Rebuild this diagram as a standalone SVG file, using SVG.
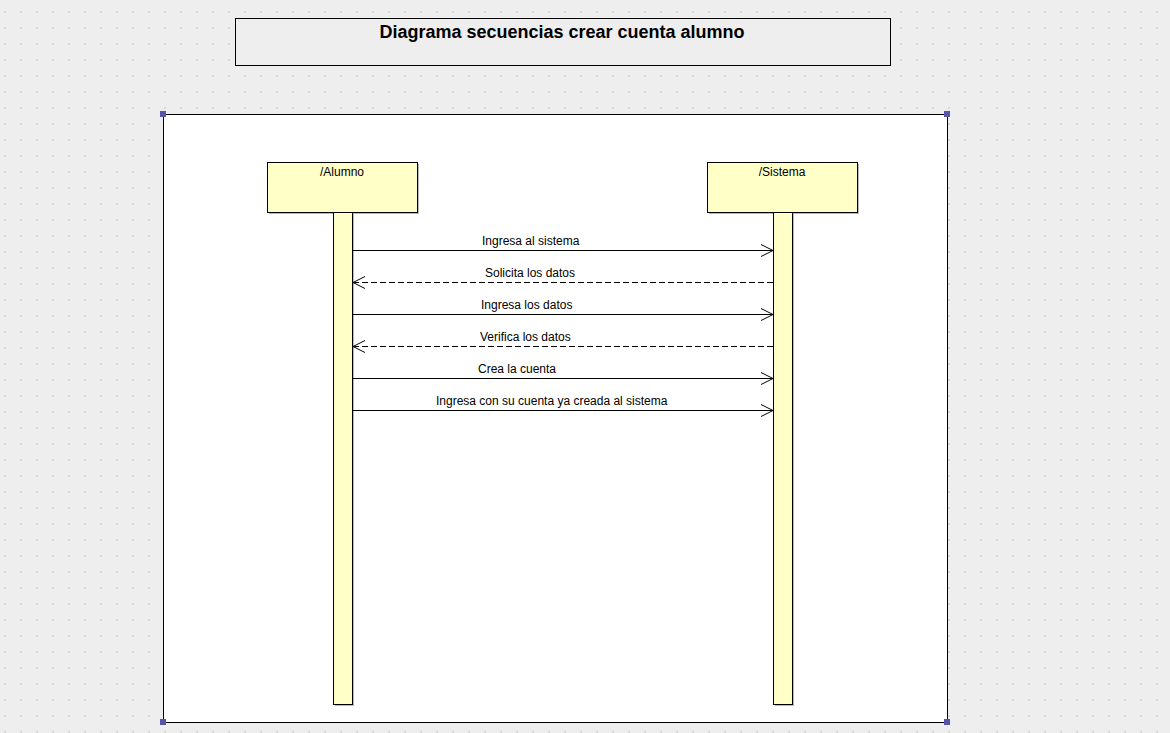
<svg xmlns="http://www.w3.org/2000/svg" width="1170" height="733" viewBox="0 0 1170 733">
<defs>
<pattern id="grid" x="4" y="11" width="16" height="16" patternUnits="userSpaceOnUse">
<rect x="0" y="0" width="2" height="2" fill="#d9d9d9"/>
</pattern>
<marker id="open" markerWidth="14" markerHeight="14" refX="13" refY="7" orient="auto" markerUnits="userSpaceOnUse">
<path d="M1,1 L13,7 L1,13" fill="none" stroke="#000" stroke-width="1"/>
</marker>
<style>
.lbl{font-family:"Liberation Sans",Arial,sans-serif;font-size:12px;fill:#000}
.head{fill:#ffffc8;stroke:#000;stroke-width:1}
.shadow{fill:#b8b8b8}
.msg{stroke:#000;stroke-width:1;fill:none}
.ret{stroke:#000;stroke-width:1;fill:none;stroke-dasharray:6,3}
.handle{fill:#5555aa}
</style>
</defs>
<rect width="1170" height="733" fill="#eeeeee"/>
<rect width="1170" height="733" fill="url(#grid)"/>
<g id="title">
<rect x="235.5" y="18.5" width="655" height="47" fill="#eeeeee" stroke="#000"/>
<text x="562" y="38" text-anchor="middle" style="font-family:'Liberation Sans',Arial,sans-serif;font-size:18px;font-weight:bold">Diagrama secuencias crear cuenta alumno</text>
</g>
<g id="frame">
<rect x="163.5" y="114.5" width="784" height="608" fill="#ffffff" stroke="#000"/>
<rect class="handle" x="160" y="111" width="6" height="6"/>
<rect class="handle" x="944" y="111" width="6" height="6"/>
<rect class="handle" x="160" y="719" width="6" height="6"/>
<rect class="handle" x="944" y="719" width="6" height="6"/>
</g>
<g id="alumno">
<rect class="shadow" x="269" y="164" width="150" height="50"/>
<rect class="head" x="267.5" y="162.5" width="150" height="50"/>
<text class="lbl" x="342" y="176" text-anchor="middle">/Alumno</text>
<rect class="shadow" x="335" y="214" width="19" height="492"/>
<rect class="head" x="333.5" y="212.5" width="19" height="492"/>
</g>
<g id="sistema">
<rect class="shadow" x="709" y="164" width="150" height="50"/>
<rect class="head" x="707.5" y="162.5" width="150" height="50"/>
<text class="lbl" x="782" y="176" text-anchor="middle">/Sistema</text>
<rect class="shadow" x="775" y="214" width="19" height="492"/>
<rect class="head" x="773.5" y="212.5" width="19" height="492"/>
</g>
<g id="connectors">
<line class="msg" x1="353" y1="250.5" x2="773" y2="250.5" marker-end="url(#open)"/>
<text class="lbl" x="482" y="245">Ingresa al sistema</text>
<line class="ret" x1="773" y1="282.5" x2="353" y2="282.5" marker-end="url(#open)"/>
<text class="lbl" x="485" y="277">Solicita los datos</text>
<line class="msg" x1="353" y1="314.5" x2="773" y2="314.5" marker-end="url(#open)"/>
<text class="lbl" x="481" y="309">Ingresa los datos</text>
<line class="ret" x1="773" y1="346.5" x2="353" y2="346.5" marker-end="url(#open)"/>
<text class="lbl" x="480" y="341">Verifica los datos</text>
<line class="msg" x1="353" y1="378.5" x2="773" y2="378.5" marker-end="url(#open)"/>
<text class="lbl" x="478" y="373">Crea la cuenta</text>
<line class="msg" x1="353" y1="410.5" x2="773" y2="410.5" marker-end="url(#open)"/>
<text class="lbl" x="436" y="405">Ingresa con su cuenta ya creada al sistema</text>
</g>
</svg>
